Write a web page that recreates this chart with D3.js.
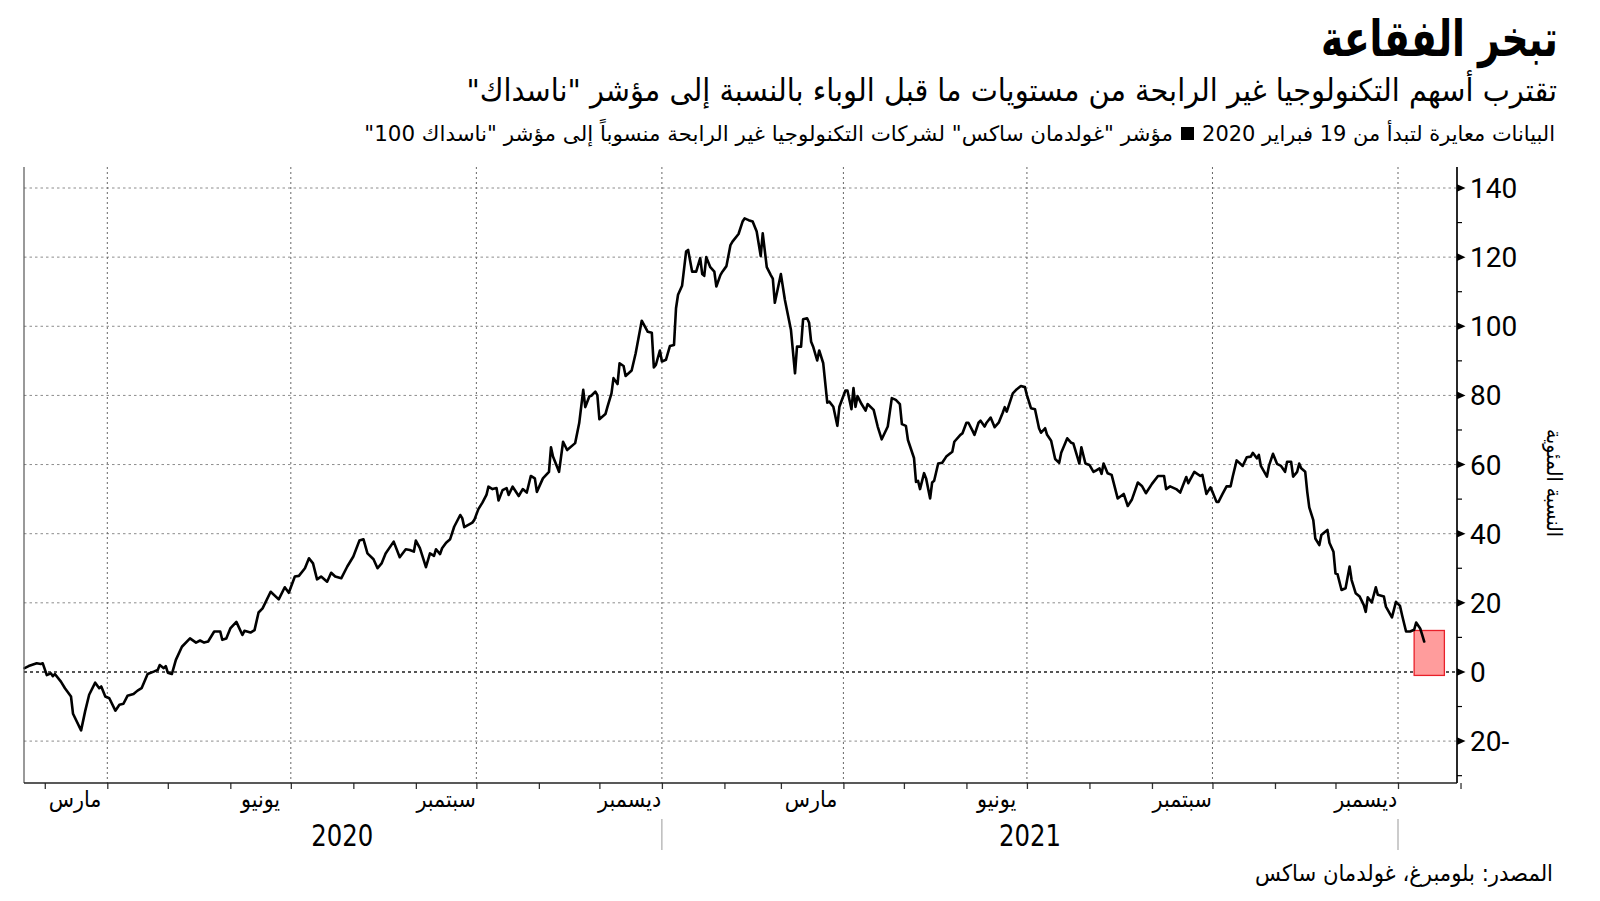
<!DOCTYPE html>
<html lang="ar">
<head>
<meta charset="utf-8">
<script src="https://cdn.jsdelivr.net/npm/d3@7"></script>
<style>
  html, body { margin: 0; padding: 0; background: #fff; }
  svg { display: block; }
  .ar { font-family: "DejaVu Sans Condensed", "DejaVu Sans", sans-serif; fill: #000; }
</style>
</head>
<body>
<svg id="chart" width="1600" height="901"></svg>
<script>
// ---------------- data ----------------
const baseDateStr = "2020-02-19"; // index rebased to start here
// days since base date
const days = [1,3,7,9,10,12,14,15,16,19,21,24,25,29,31,33,36,38,39,41,43,46,48,50,52,55,57,59,62,65,67,68,70,71,72,74,76,79,83,86,88,90,92,95,98,99,101,103,106,109,110,113,115,117,119,123,127,130,132,135,137,140,142,144,146,148,151,153,155,158,161,164,167,169,171,174,176,178,180,184,187,190,192,194,195,197,200,202,204,205,207,208,210,212,214,217,218,219,223,224,226,228,230,231,233,235,236,238,240,241,243,246,248,250,252,254,255,258,261,262,263,266,268,270,274,276,278,279,281,282,284,285,286,289,290,292,293,295,296,298,299,302,304,307,310,312,313,314,316,317,319,321,323,324,325,327,329,330,332,334,336,337,338,339,341,343,344,346,347,349,351,352,355,357,358,360,362,364,366,367,369,371,372,373,376,378,381,383,384,386,387,389,390,391,392,394,395,397,399,400,402,404,405,408,409,411,412,413,414,416,418,419,422,424,426,429,431,433,435,436,438,439,442,443,444,445,447,448,450,451,452,454,456,458,461,462,465,466,468,469,471,472,474,475,477,478,480,482,484,486,487,488,491,493,495,497,498,500,502,504,505,507,508,510,512,514,515,518,520,521,524,525,527,529,531,532,534,535,536,538,540,543,546,548,550,553,555,557,560,563,566,567,569,572,574,577,578,581,584,585,587,589,590,592,593,595,597,599,600,602,605,607,609,610,612,613,614,617,618,620,622,624,626,627,629,630,632,633,634,636,637,638,640,641,643,644,645,647,648,650,651,652,654,656,658,659,661,663,665,666,667,669,671,672,675,676,679,681,683,684,686,688,690,691,693,694,695];
// Goldman Sachs non-profitable tech index relative to Nasdaq 100, % change
const values = [1.1,1.7,2.5,2.3,2.5,-0.9,-0.4,-1.2,-0.6,-2.8,-4.7,-7.1,-12.1,-16.9,-11.4,-6.6,-3.1,-4.7,-4.2,-7.1,-7.6,-11.2,-9.5,-9.2,-6.9,-6.4,-5.4,-4.7,-0.6,0.1,0.6,2.0,1.1,1.7,-0.2,-0.6,3.5,7.3,9.7,8.5,9.1,8.5,8.8,11.7,11.7,9.3,9.7,12.6,14.5,10.7,11.9,11.4,12.1,17.2,18.4,23.2,21.0,24.5,22.9,27.6,27.8,30.0,32.9,31.4,26.8,27.6,26.1,28.7,27.6,27.1,30.5,33.4,38.0,38.4,34.3,32.6,30.0,31.4,34.3,37.7,33.2,35.5,35.3,34.8,38.0,35.8,30.3,34.3,33.6,35.5,34.1,35.8,37.4,38.4,42.0,45.4,44.5,41.9,43.2,44.0,47.1,49.0,51.2,53.6,52.9,53.2,49.6,52.6,53.2,51.2,53.6,50.9,52.9,51.9,56.7,56.0,52.1,56.0,57.9,65.0,62.3,57.9,66.6,64.2,66.2,72.0,81.6,76.6,79.7,79.9,81.1,80.1,73.1,74.6,76.7,80.6,85.0,83.3,89.3,88.5,85.6,87.2,92.2,101.6,98.4,98.1,88.1,88.8,93.0,89.8,90.3,94.3,94.6,105.2,109.1,111.7,121.6,122.1,115.8,115.8,119.7,115.1,114.6,120.0,117.1,115.8,111.5,114.8,115.8,117.4,123.5,124.5,126.7,130.3,131.2,130.7,130.3,127.4,120.3,126.9,117.1,114.8,113.8,106.8,115.1,107.6,98.9,86.4,94.1,94.1,102.0,102.3,101.0,95.5,94.1,90.1,93.0,89.3,77.9,78.2,76.7,71.2,76.7,81.4,81.4,76.0,82.1,76.7,79.8,77.5,75.6,77.5,75.8,71.0,67.3,71.0,79.2,78.7,77.5,71.7,71.2,67.1,61.9,55.0,55.3,52.9,57.5,56.0,50.2,54.8,55.3,60.3,60.5,62.3,63.7,66.6,68.6,69.0,72.1,72.1,69.8,68.6,72.1,72.7,71.0,72.1,73.6,70.8,72.1,75.0,76.6,75.3,80.6,81.8,82.7,82.4,80.1,76.3,76.0,70.5,69.2,70.5,68.6,66.9,61.6,60.5,63.4,67.6,66.3,66.1,60.3,65.0,60.3,59.9,57.9,58.2,58.9,57.3,60.3,57.5,57.0,50.2,51.5,48.0,49.8,54.8,53.8,51.7,54.4,56.7,56.7,52.9,53.7,52.9,51.9,56.4,54.6,57.9,56.7,57.0,51.5,53.4,52.1,49.2,49.2,51.5,53.7,53.7,56.4,61.2,59.6,62.1,62.3,63.4,61.8,62.8,59.6,56.5,59.6,63.1,60.2,59.6,57.9,60.8,60.8,56.5,57.9,60.3,58.9,57.9,52.1,47.6,43.9,38.6,36.7,39.6,40.1,41.1,37.4,34.8,28.5,28.3,23.7,24.2,30.5,26.6,22.8,21.8,19.4,17.4,21.6,20.1,24.5,22.3,21.8,18.9,15.8,20.3,19.1,16.5,11.7,11.7,12.2,14.3,12.6,10.7,8.8];

// highlighted window (days since base date, value range)
const highlightDays = [690, 705];
const highlightValues = [-1, 12];

const yTicksMajor = [-20, 0, 20, 40, 60, 80, 100, 120, 140];
const yTicksMinor = [-30, -10, 10, 30, 50, 70, 90, 110, 130];
const monthNames = ["مارس", "يونيو", "سبتمبر", "ديسمبر"];
const monthIndexes = [2, 5, 8, 11];
const years = [2020, 2021];

const title = "تبخر الفقاعة";
const subtitle = "تقترب أسهم التكنولوجيا غير الرابحة من مستويات ما قبل الوباء بالنسبة إلى مؤشر \"ناسداك\"";
const legendNote = "البيانات معايرة لتبدأ من 19 فبراير 2020";
const legendSeries = "مؤشر \"غولدمان ساكس\" لشركات التكنولوجيا غير الرابحة منسوباً إلى مؤشر \"ناسداك 100\"";
const source = "المصدر: بلومبرغ، غولدمان ساكس";
const yTitle = "النسبة المئوية";

// ---------------- layout ----------------
const L = 24, R = 1457, T = 167, B = 783;
const svg = d3.select("#chart");
const base = new Date(baseDateStr + "T00:00:00Z");
const toDate = d => d3.utcDay.offset(base, d);

const x = d3.scaleUtc()
  .domain([base, new Date(Date.UTC(2022, 0, 1))])
  .range([22.6, 1398]);
const y = d3.scaleLinear().domain([-20, 140]).range([741.1, 188]);

// fit an RTL text between left/right edges
function fitText(sel, left, right) {
  const bb = sel.node().getBBox();
  const sx = (right - left) / bb.width;
  sel.attr("transform", `translate(${left - bb.x * sx},0) scale(${sx},1)`);
}
function arText(str, size, weight, baseline) {
  return svg.append("text").attr("class", "ar")
    .attr("x", 0).attr("y", baseline)
    .attr("direction", "rtl").style("unicode-bidi", "embed")
    .attr("font-size", size).attr("font-weight", weight)
    .text(str);
}

// ---------------- grid ----------------
const grid = svg.append("g");
grid.selectAll("line.h").data(yTicksMajor).join("line")
  .attr("x1", L).attr("x2", R)
  .attr("y1", d => y(d)).attr("y2", d => y(d))
  .attr("stroke", d => d === 0 ? "#555" : "#8c8c8c")
  .attr("stroke-width", d => d === 0 ? 2 : 1)
  .attr("stroke-dasharray", d => d === 0 ? "3,3" : "2.5,3");

const quarterLines = d3.utcMonth.every(3).range(new Date(Date.UTC(2020, 2, 2)), new Date(Date.UTC(2022, 0, 2)));
grid.selectAll("line.v").data(quarterLines).join("line")
  .attr("x1", d => x(d)).attr("x2", d => x(d))
  .attr("y1", T).attr("y2", B)
  .attr("stroke", "#666").attr("stroke-width", 1)
  .attr("stroke-dasharray", "2,3");

// ---------------- highlight ----------------
svg.append("rect")
  .attr("x", x(toDate(highlightDays[0])))
  .attr("y", y(highlightValues[1]))
  .attr("width", x(toDate(highlightDays[1])) - x(toDate(highlightDays[0])))
  .attr("height", y(highlightValues[0]) - y(highlightValues[1]))
  .attr("fill", "#ff9c9c").attr("stroke", "#e8202a").attr("stroke-width", 1.3);

// ---------------- line ----------------
const series = days.map((d, i) => ({ date: toDate(d), value: values[i] }));
svg.append("path").datum(series)
  .attr("fill", "none").attr("stroke", "#000").attr("stroke-width", 2.6)
  .attr("stroke-linejoin", "round").attr("stroke-linecap", "round")
  .attr("d", d3.line().x(d => x(d.date)).y(d => y(d.value)));

// ---------------- axes ----------------
// left border
svg.append("line").attr("x1", L).attr("x2", L).attr("y1", T).attr("y2", B)
  .attr("stroke", "#555").attr("stroke-width", 1.2);

// bottom axis with monthly ticks
const monthTicks = d3.utcMonth.range(new Date(Date.UTC(2020, 2, 1)), new Date(Date.UTC(2022, 1, 2)));
const xAxis = d3.axisBottom(x).tickValues(monthTicks).tickSize(6).tickFormat("");
const gx = svg.append("g").attr("transform", `translate(0,${B})`).call(xAxis);
gx.select(".domain").remove();
gx.selectAll(".tick line").attr("stroke", "#333").attr("stroke-width", 1.3);
svg.append("line").attr("x1", L).attr("x2", R).attr("y1", B).attr("y2", B)
  .attr("stroke", "#222").attr("stroke-width", 1.6);

// month labels
const monthLabels = [];
years.forEach(yr => monthIndexes.forEach((m, i) => monthLabels.push({ date: new Date(Date.UTC(yr, m, 16)), name: monthNames[i] })));
svg.selectAll("text.month").data(monthLabels).join("text")
  .attr("class", "ar month")
  .attr("x", d => x(d.date)).attr("y", 807)
  .attr("text-anchor", "middle").attr("direction", "rtl")
  .attr("font-size", 23)
  .text(d => d.name);

// year labels and separators
years.forEach(yr => {
  const a = Math.max(x(new Date(Date.UTC(yr, 0, 1))), L);
  const b = x(new Date(Date.UTC(yr + 1, 0, 1)));
  const t = svg.append("text").attr("class", "ar")
    .attr("x", 0).attr("y", 846).attr("font-size", 31).text(String(yr));
  const cx = yr === 2020 ? (x(toDate(0)) + b) / 2 : (a + b) / 2;
  fitText(t, cx - 31, cx + 31);
  svg.append("line").attr("x1", b).attr("x2", b).attr("y1", 819).attr("y2", 850)
    .attr("stroke", "#999").attr("stroke-width", 1);
});

// right y axis
const gy = svg.append("g");
gy.append("line").attr("x1", R).attr("x2", R).attr("y1", T).attr("y2", B)
  .attr("stroke", "#111").attr("stroke-width", 1.8);
gy.selectAll("path.tri").data(yTicksMajor).join("path")
  .attr("d", d => `M${R},${y(d) - 3.8}L${R + 8.5},${y(d)}L${R},${y(d) + 3.8}Z`)
  .attr("fill", "#000");
gy.selectAll("line.minor").data(yTicksMinor).join("line")
  .attr("x1", R).attr("x2", R + 5)
  .attr("y1", d => y(d)).attr("y2", d => y(d))
  .attr("stroke", "#000").attr("stroke-width", 1.2);
gy.selectAll("text.yl").data(yTicksMajor).join("text")
  .attr("x", R + 13).attr("y", d => y(d)).attr("dy", "0.36em")
  .attr("font-family", "Roboto, 'Open Sans', sans-serif")
  .attr("font-size", 28).attr("fill", "#000")
  .text(d => d < 0 ? Math.abs(d) + "-" : d);

// y title (rotated)
svg.append("text").attr("class", "ar")
  .attr("transform", "translate(1547,483) rotate(90)")
  .attr("text-anchor", "middle").attr("direction", "rtl")
  .attr("font-size", 21).text(yTitle);

// ---------------- titles ----------------
fitText(arText(title, 50, "bold", 56), 1321, 1558);
fitText(arText(subtitle, 31, "normal", 101), 466, 1557);
fitText(arText(legendNote, 21, "normal", 141), 1202, 1555);
svg.append("rect").attr("x", 1181).attr("y", 127).attr("width", 13).attr("height", 13).attr("fill", "#000");
fitText(arText(legendSeries, 21, "normal", 141), 364, 1173);
fitText(arText(source, 23, "normal", 881), 1255, 1553);
</script>
</body>
</html>
